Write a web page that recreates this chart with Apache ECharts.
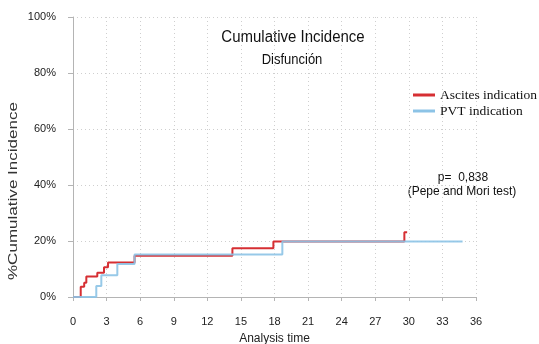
<!DOCTYPE html>
<html>
<head>
<meta charset="utf-8">
<script src="https://cdn.jsdelivr.net/npm/echarts@6/dist/echarts.min.js"></script>
<style>html,body{margin:0;padding:0;background:#fff}#c{width:539px;height:344px}</style>
</head>
<body>
<div id="c"></div>
<script>
// Data (time in months, cumulative incidence in %)
var seriesNames = ['Ascites indication', 'PVT indication'];
var ascitesTime = [0, 0.69, 1.0, 1.19, 2.17, 2.77, 3.13, 5.5, 14.24, 17.9, 29.6, 29.85];
var ascitesPct  = [0, 3.7, 5.1, 7.3, 8.7, 10.6, 12.3, 14.7, 17.4, 19.8, 23.1, 23.1];
var pvtTime = [0, 2.08, 2.53, 3.96, 5.5, 18.7, 34.8];
var pvtPct  = [0, 3.9, 7.8, 11.8, 15.2, 19.8, 19.8];
var xTicks = [0, 3, 6, 9, 12, 15, 18, 21, 24, 27, 30, 33, 36];
var yTicks = [0, 20, 40, 60, 80, 100];
var titleText = 'Cumulative Incidence';
var subtitleText = 'Disfunción';
var pText = 'p=  0,838';
var testText = '(Pepe and Mori test)';

function pairs(t, v) { return t.map(function (x, i) { return [x, v[i]]; }); }

var chart = echarts.init(document.getElementById('c'), null, { renderer: 'canvas' });
var sans = 'Liberation Sans, Arial, sans-serif';
var axisGray = '#b4b4b4';
var gridStyle = { show: true, lineStyle: { color: '#cfcfcf', type: [1, 3], width: 1 } };

chart.setOption({
  animation: false,
  backgroundColor: '#ffffff',
  grid: { left: 73, right: 63, top: 17, bottom: 47, containLabel: false, outerBoundsMode: 'none' },
  xAxis: {
    type: 'value', min: xTicks[0], max: xTicks[xTicks.length - 1], interval: 3,
    offset: 10,
    name: 'Analysis time', nameLocation: 'middle', nameGap: 26,
    nameTextStyle: { fontFamily: sans, fontSize: 12, color: '#222' },
    axisLine: { show: true, lineStyle: { color: axisGray, width: 1 } },
    axisTick: { show: true, length: 4, lineStyle: { color: axisGray } },
    axisLabel: { fontFamily: sans, fontSize: 11, color: '#222', margin: 9 },
    splitLine: gridStyle
  },
  yAxis: {
    type: 'value', min: yTicks[0], max: yTicks[yTicks.length - 1], interval: 20,
    offset: 9,
    axisLine: { show: true, lineStyle: { color: axisGray, width: 1 } },
    axisTick: { show: true, length: 5, lineStyle: { color: axisGray } },
    axisLabel: { fontFamily: sans, fontSize: 11, color: '#222', margin: 8, formatter: '{value}%' },
    splitLine: gridStyle
  },
  legend: {
    orient: 'vertical', left: 408, top: 83, itemGap: 2,
    itemWidth: 22, itemHeight: 3, icon: 'rect',
    data: seriesNames,
    textStyle: { fontFamily: 'Liberation Serif, Times New Roman, serif', fontSize: 13.5, color: '#111', padding: [0, 0, 0, 0] }
  },
  graphic: [
    { type: 'text', x: 293, y: 37, scaleY: 1.15, style: { text: titleText, font: '15px ' + sans, fill: '#111', align: 'center', verticalAlign: 'middle' } },
    { type: 'text', x: 292, y: 60, scaleY: 1.15, style: { text: subtitleText, font: '13px ' + sans, fill: '#111', align: 'center', verticalAlign: 'middle' } },
    { type: 'text', x: 463, y: 177, scaleY: 1.1, style: { text: pText, font: '12px ' + sans, fill: '#111', align: 'center', verticalAlign: 'middle' } },
    { type: 'text', x: 462, y: 191, scaleY: 1.1, style: { text: testText, font: '12px ' + sans, fill: '#111', align: 'center', verticalAlign: 'middle' } },
    { type: 'text', x: 14, y: 191, rotation: Math.PI / 2, scaleX: 1.42,
      style: { text: '%Cumulative Incidence', font: '12px ' + sans, fill: '#333', align: 'center', verticalAlign: 'middle' } }
  ],
  series: [
    { name: seriesNames[0], type: 'line', step: 'end', showSymbol: false, symbol: 'none',
      data: pairs(ascitesTime, ascitesPct), lineStyle: { color: '#d62f33', width: 2 }, itemStyle: { color: '#d62f33' }, z: 2 },
    { name: seriesNames[1], type: 'line', step: 'end', showSymbol: false, symbol: 'none',
      data: pairs(pvtTime, pvtPct), lineStyle: { color: '#8cc3e6', width: 2, opacity: 0.9 }, itemStyle: { color: '#8cc3e6' }, z: 3 }
  ]
});
</script>
</body>
</html>
